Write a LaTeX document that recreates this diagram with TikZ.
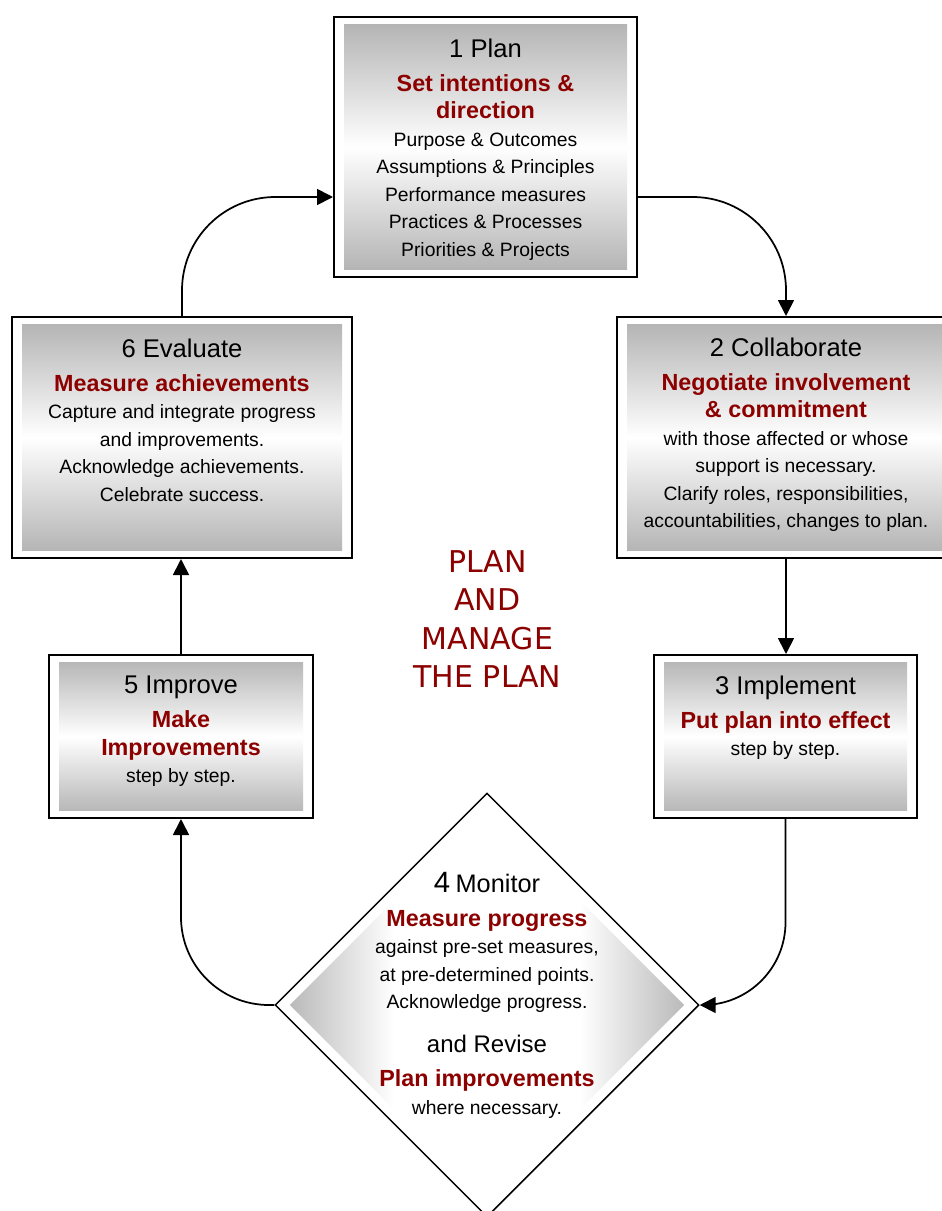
\documentclass[tikz,border=0pt]{standalone}
\usepackage{fontspec}
\setmainfont{Liberation Sans}
\newfontfamily\ctrfont{DejaVu Sans}
\usetikzlibrary{arrows.meta,shapes.geometric,fit,calc}
\definecolor{dred}{RGB}{140,0,0}
\definecolor{gtone}{RGB}{176,176,176}
\pgfdeclarehorizontalshading{dshade}{100bp}{color(0bp)=(gtone); color(25bp)=(gtone); color(39bp)=(white); color(61bp)=(white); color(75bp)=(gtone); color(100bp)=(gtone)}
\newcommand\ttl[1]{{\fontsize{19.2}{20.6}\selectfont #1}}
\newcommand\hl[1]{{\fontsize{17.5}{20.6}\selectfont\bfseries\color{dred}#1}}
\tikzset{
  frame/.style={draw, line width=1.5pt, fill=white, inner sep=0pt,
    path picture={\shade[top color=gtone,bottom color=gtone,middle color=white]
      ($(path picture bounding box.south west)+(7.5pt,5.6pt)$) rectangle
      ($(path picture bounding box.north east)+(-7.5pt,-5.6pt)$);}},
  dmd/.style={diamond, draw, line width=1.1pt, fill=white, aspect=1, inner sep=0pt,
    minimum width=318pt, minimum height=318pt,
    path picture={\shade[shading=dshade]
      ($(path picture bounding box.west)+(11pt,0)$) --
      ($(path picture bounding box.north)+(0,-11pt)$) --
      ($(path picture bounding box.east)+(-11pt,0)$) --
      ($(path picture bounding box.south)+(0,11pt)$) -- cycle;}},
  txt/.style={anchor=north, inner sep=0pt, align=center, font=\fontsize{14.5}{20.6}\selectfont},
  ctr/.style={anchor=north, inner sep=0pt, align=center, text=dred, font=\ctrfont\fontsize{22.5}{28.9}\selectfont},
  arr/.style={line width=1.3pt, -{Triangle[length=12pt,width=12pt]}},
}
\begin{document}
\begin{tikzpicture}[x=0.75pt,y=-0.75pt]
\useasboundingbox (0,0) rectangle (942,1211);
\clip (0,0) rectangle (942,1211);
% boxes
\node[frame, fit={(334,17) (637,277)}] (b1) {};
\node[frame, fit={(12,317) (352,558)}] (b6) {};
\node[frame, fit={(617,317) (955,558)}] (b2) {};
\node[frame, fit={(49,655) (313,818)}] (b5) {};
\node[frame, fit={(654,655) (917,818)}] (b3) {};
\node[dmd] (d4) at (487,1005) {};
% connectors
\draw[arr, rounded corners=70pt] (b6.north) |- ([yshift=-37.5pt]b1.west);
\draw[arr, rounded corners=70pt] ([yshift=-37.5pt]b1.east) -| (b2.north);
\draw[arr] (b2.south) -- (b2.south |- b3.north);
\draw[arr, rounded corners=62pt] (b3.south) |- (d4.east);
\draw[arr, rounded corners=66pt] (d4.west) -| (b5.south);
\draw[arr] (b5.north) -- (b5.north |- b6.south);
% texts
\node[txt] (t1) at (485.5,38.7) {\ttl{1 Plan}\\[4.9pt]
  \hl{Set intentions \&}\\ \hl{direction}\\
  Purpose \& Outcomes\\ Assumptions \& Principles\\ Performance measures\\
  Practices \& Processes\\ Priorities \& Projects};
\node[txt] (t6) at (182,338.7) {\ttl{6 Evaluate}\\[4.9pt]
  \hl{Measure achievements}\\ Capture and integrate progress\\ and improvements.\\
  Acknowledge achievements.\\ Celebrate success.};
\node[txt] (t2) at (786,337.7) {\ttl{2 Collaborate}\\[4.9pt]
  \hl{Negotiate involvement}\\ \hl{\& commitment}\\ with those affected or whose\\
  support is necessary.\\ Clarify roles, responsibilities,\\ accountabilities, changes to plan.};
\node[txt] (t5) at (181,675.7) {\ttl{5 Improve}\\[4.9pt]
  \hl{Make}\\ \hl{Improvements}\\ step by step.};
\node[txt] (t3) at (785.5,675.7) {\ttl{3 Implement}\\[4.9pt]
  \hl{Put plan into effect}\\ step by step.};
\node[txt] (t4) at (487,872) {{\fontsize{22}{20.6}\selectfont 4} {\fontsize{19}{20.6}\selectfont Monitor}\\[4.9pt]
  \hl{Measure progress}\\ against pre-set measures,\\ at pre-determined points.\\
  Acknowledge progress.\\[12.4pt] {\fontsize{18}{20.6}\selectfont and Revise}\\[4.9pt]
  \hl{Plan improvements}\\ where necessary.};
\node[ctr] (tc) at (487.5,550) {PLAN\\AND\\MANAGE\\THE PLAN};
\end{tikzpicture}
\end{document}
